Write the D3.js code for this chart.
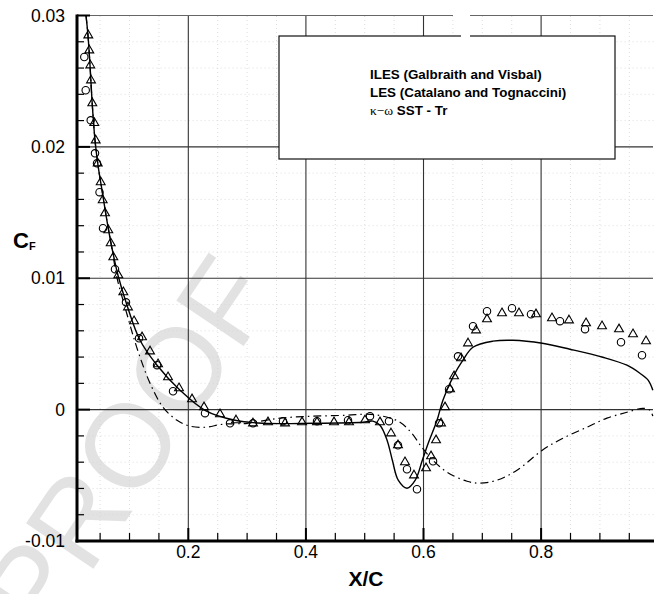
<!DOCTYPE html>
<html>
<head>
<meta charset="utf-8">
<script src="https://cdn.jsdelivr.net/npm/d3@7"></script>
<style>
  body { margin: 0; background: #fff; }
  svg { display: block; }
</style>
</head>
<body>
<svg id="chart" width="664" height="594"></svg>
<script>
// Axis ticks
const xTicks = [0.2, 0.4, 0.6, 0.8];
const xTickLabels = ["0.2", "0.4", "0.6", "0.8"];
const xMinorTicks = [0.05, 0.1, 0.15, 0.25, 0.3, 0.35, 0.45, 0.5, 0.55, 0.65, 0.7, 0.75, 0.85, 0.9, 0.95];
const yTicks = [-0.01, 0, 0.01, 0.02, 0.03];
const yTickLabels = ["-0.01", "0", "0.01", "0.02", "0.03"];
const yMinorTicks = [-0.008, -0.006, -0.004, -0.002, 0.002, 0.004, 0.006, 0.008,
                     0.012, 0.014, 0.016, 0.018, 0.022, 0.024, 0.026, 0.028];

const legendLines = ["ILES (Galbraith and Visbal)", "LES (Catalano and Tognaccini)"];

// ILES (Galbraith and Visbal) — circles
const ilesX = [0.0231, 0.0255, 0.0340, 0.0413, 0.0447, 0.0490, 0.0549, 0.0753, 0.0940, 0.1162,
               0.1468, 0.1740, 0.2284, 0.2709, 0.3100, 0.3610, 0.4189, 0.4716, 0.5090, 0.5413,
               0.5566, 0.5719, 0.5889, 0.6162, 0.6264, 0.6434, 0.6587, 0.6842, 0.7080, 0.7505,
               0.7828, 0.8321, 0.8747, 0.9359, 0.9716];
const ilesCf = [0.02684, 0.02431, 0.02202, 0.01951, 0.01875, 0.01655, 0.01381, 0.01069, 0.00817, 0.00543,
                0.00338, 0.00140, -0.00027, -0.00104, -0.00104, -0.00088, -0.00088, -0.00081, -0.00050, -0.00088,
                -0.00271, -0.00454, -0.00606, -0.00393, -0.00104, 0.00155, 0.00406, 0.00635, 0.00749, 0.00772,
                0.00726, 0.00673, 0.00612, 0.00513, 0.00414];

// LES (Catalano and Tognaccini) — triangles
const lesX = [0.0299, 0.0316, 0.0333, 0.0345, 0.0367, 0.0401, 0.0425, 0.0459, 0.0510, 0.0544,
              0.0583, 0.0639, 0.0680, 0.0724, 0.0810, 0.0895, 0.0974, 0.1077, 0.1213, 0.1349,
              0.1485, 0.1655, 0.1842, 0.2063, 0.2267, 0.2539, 0.2811, 0.3100, 0.3355, 0.3645,
              0.3934, 0.4189, 0.4478, 0.4733, 0.5005, 0.5260, 0.5447, 0.5566, 0.5685, 0.5838,
              0.6043, 0.6128, 0.6213, 0.6298, 0.6366, 0.6451, 0.6519, 0.6638, 0.6757, 0.6893,
              0.7080, 0.7335, 0.7624, 0.7913, 0.8185, 0.8474, 0.8764, 0.9036, 0.9325, 0.9563,
              0.9784];
const lesCf = [0.02849, 0.02735, 0.02621, 0.02507, 0.02332, 0.02182, 0.02050, 0.01875, 0.01731, 0.01594,
               0.01495, 0.01366, 0.01267, 0.01160, 0.01023, 0.00894, 0.00779, 0.00673, 0.00551, 0.00444,
               0.00346, 0.00247, 0.00163, 0.00079, 0.00018, -0.00035, -0.00081, -0.00104, -0.00096, -0.00104,
               -0.00096, -0.00096, -0.00096, -0.00096, -0.00081, -0.00096, -0.00180, -0.00271, -0.00400, -0.00500,
               -0.00446, -0.00355, -0.00233, -0.00104, 0.00018, 0.00155, 0.00254, 0.00391, 0.00505, 0.00604,
               0.00688, 0.00734, 0.00734, 0.00726, 0.00696, 0.00680, 0.00658, 0.00635, 0.00612, 0.00574,
               0.00521];

// k-omega SST with transition — solid line
const sstTrX = [0.026, 0.0294, 0.0328, 0.0362, 0.0413, 0.0464, 0.0532, 0.0600, 0.0685, 0.0804,
                0.0957, 0.1179, 0.1468, 0.1859, 0.2284, 0.2794, 0.3270, 0.4120, 0.4970, 0.5140,
                0.5260, 0.5380, 0.5470, 0.5570, 0.5720, 0.5860, 0.5980, 0.6080, 0.6230, 0.6330,
                0.6500, 0.6670, 0.6840, 0.7180, 0.7520, 0.8020, 0.8490, 0.9050, 0.9460, 0.9680,
                0.9820, 0.9900];
const sstTrCf = [0.0300, 0.02847, 0.02621, 0.02354, 0.02050, 0.01860, 0.01670, 0.01480, 0.01267, 0.01023,
                 0.00795, 0.00528, 0.00338, 0.00148, -0.00005, -0.00081, -0.00104, -0.00104, -0.00096, -0.00088,
                 -0.00119, -0.00233, -0.00385, -0.00537, -0.00598, -0.00537, -0.00385, -0.00256, -0.00081, 0.00072,
                 0.00247, 0.00376, 0.00475, 0.00521, 0.00528, 0.00505, 0.00460, 0.00399, 0.00338, 0.00277,
                 0.00224, 0.00148];

// k-omega SST fully turbulent — dash-dot line
const sstX = [0.026, 0.0294, 0.0328, 0.0362, 0.0413, 0.0464, 0.0532, 0.0600, 0.0685, 0.0789,
              0.0889, 0.0957, 0.1059, 0.1179, 0.1349, 0.1570, 0.1808, 0.2029, 0.2284, 0.2590,
              0.3000, 0.3560, 0.4120, 0.4700, 0.5040, 0.5310, 0.5600, 0.5800, 0.5970, 0.6160,
              0.6400, 0.6740, 0.6960, 0.7250, 0.7590, 0.8020, 0.8370, 0.8780, 0.9120, 0.9460,
              0.9730, 0.9850, 0.9900];
const sstCf = [0.0300, 0.02847, 0.02621, 0.02354, 0.02050, 0.01860, 0.01670, 0.01480, 0.01267, 0.01000,
               0.00833, 0.00726, 0.00566, 0.00399, 0.00201, 0.00018, -0.00081, -0.00126, -0.00134, -0.00111,
               -0.00104, -0.00065, -0.00050, -0.00043, -0.00035, -0.00050, -0.00096, -0.00180, -0.00286, -0.00385,
               -0.00476, -0.00545, -0.00560, -0.00537, -0.00461, -0.00309, -0.00218, -0.00134, -0.00065, -0.00020,
               0.00010, -0.00005, -0.00050];

const svg = d3.select("#chart");
const FONT = "'Liberation Sans', Arial, Helvetica, sans-serif";

const x = d3.scaleLinear().domain([0.01, 0.992]).range([76.6, 654]);
const y = d3.scaleLinear().domain([-0.01, 0.03]).range([541, 15.5]);

// Watermark
svg.append("text")
  .attr("transform", "translate(44,642) rotate(-56)")
  .attr("font-family", FONT)
  .attr("font-size", 118)
  .attr("fill", "#e2e2e2")
  .text("PROOF");

// Minor dotted grid
const grid = svg.append("g");
grid.selectAll("line.xm").data(xMinorTicks).join("line")
  .attr("x1", d => x(d)).attr("x2", d => x(d))
  .attr("y1", y(-0.01)).attr("y2", y(0.03))
  .attr("stroke", "#d4d4d4").attr("stroke-width", 0.8).attr("stroke-dasharray", "1,3");
grid.selectAll("line.ym").data(yMinorTicks).join("line")
  .attr("x1", x(0.01)).attr("x2", x(0.992))
  .attr("y1", d => y(d)).attr("y2", d => y(d))
  .attr("stroke", "#d4d4d4").attr("stroke-width", 0.8).attr("stroke-dasharray", "1,3");

// Major grid
grid.selectAll("line.xM").data(xTicks).join("line")
  .attr("x1", d => x(d)).attr("x2", d => x(d))
  .attr("y1", y(-0.01)).attr("y2", y(0.03))
  .attr("stroke", "#333").attr("stroke-width", 1.1);
grid.selectAll("line.yM").data(yTicks.filter(d => d > -0.01)).join("line")
  .attr("x1", x(0.01)).attr("x2", x(0.992) - 1)
  .attr("y1", d => y(d)).attr("y2", d => y(d))
  .attr("stroke", d => d === 0.03 ? "#666" : "#333").attr("stroke-width", 1.1);

// Legend box
svg.append("rect")
  .attr("x", 279).attr("y", 36).attr("width", 336).attr("height", 123)
  .attr("fill", "#fff").attr("stroke", "#111").attr("stroke-width", 1.2);
const leg = svg.append("g").attr("font-family", FONT).attr("font-weight", "bold").attr("font-size", 13.4);
leg.selectAll("text.l").data(legendLines).join("text")
  .attr("x", 370).attr("y", (d, i) => 79 + i * 18).text(d => d);
const t3 = leg.append("text").attr("x", 370).attr("y", 115);
t3.append("tspan").attr("font-family", "'Liberation Serif', 'DejaVu Serif', serif")
  .attr("font-weight", "normal").attr("font-size", 13.4).text("\u03ba\u2212\u03c9");
t3.append("tspan").text(" SST - Tr");

// Axes
svg.append("line").attr("x1", 75.5).attr("x2", 654).attr("y1", 541).attr("y2", 541)
  .attr("stroke", "#000").attr("stroke-width", 3);
svg.append("line").attr("x1", 77).attr("x2", 77).attr("y1", 14.5).attr("y2", 542.5)
  .attr("stroke", "#000").attr("stroke-width", 3);

// Tick marks (inward)
const ticks = svg.append("g").attr("stroke", "#000");
ticks.selectAll("line.xt").data(xTicks).join("line")
  .attr("x1", d => x(d)).attr("x2", d => x(d)).attr("y1", 541).attr("y2", 528)
  .attr("stroke-width", 2);
ticks.selectAll("line.xmt").data(xMinorTicks).join("line")
  .attr("x1", d => x(d)).attr("x2", d => x(d)).attr("y1", 541).attr("y2", 533)
  .attr("stroke-width", 1.2);
ticks.selectAll("line.yt").data(yTicks).join("line")
  .attr("x1", 77).attr("x2", 90).attr("y1", d => y(d)).attr("y2", d => y(d))
  .attr("stroke-width", 2);
ticks.selectAll("line.ymt").data(yMinorTicks).join("line")
  .attr("x1", 77).attr("x2", 84).attr("y1", d => y(d)).attr("y2", d => y(d))
  .attr("stroke-width", 1.2);

// Tick labels
const lab = svg.append("g").attr("font-family", FONT).attr("font-size", 17.5).attr("fill", "#000");
lab.selectAll("text.xl").data(xTicks).join("text")
  .attr("x", d => x(d)).attr("y", 558).attr("text-anchor", "middle")
  .text((d, i) => xTickLabels[i]);
lab.selectAll("text.yl").data(yTicks).join("text")
  .attr("x", 65).attr("y", d => y(d) + 6).attr("text-anchor", "end")
  .text((d, i) => yTickLabels[i]);

// Axis titles
svg.append("text").attr("x", 366).attr("y", 586).attr("text-anchor", "middle")
  .attr("font-family", FONT).attr("font-weight", "bold").attr("font-size", 21).text("X/C");
const yt = svg.append("text").attr("x", 13).attr("y", 248)
  .attr("font-family", FONT).attr("font-weight", "bold").attr("font-size", 22);
yt.append("tspan").text("C");
yt.append("tspan").attr("font-size", 11).attr("dy", 2).text("F");

// Curves
const line = d3.line().x(d => x(d[0])).y(d => y(d[1])).curve(d3.curveCatmullRom.alpha(0.5));
svg.append("path").datum(d3.zip(sstX, sstCf)).attr("d", line)
  .attr("fill", "none").attr("stroke", "#000").attr("stroke-width", 1.2)
  .attr("stroke-dasharray", "8,4,1.5,4");
svg.append("path").datum(d3.zip(sstTrX, sstTrCf)).attr("d", line)
  .attr("fill", "none").attr("stroke", "#000").attr("stroke-width", 1.4);

// Markers
svg.append("g").selectAll("circle").data(d3.zip(ilesX, ilesCf)).join("circle")
  .attr("cx", d => x(d[0])).attr("cy", d => y(d[1])).attr("r", 3.7)
  .attr("fill", "none").attr("stroke", "#000").attr("stroke-width", 1.1);
const tri = d3.symbol().type(d3.symbolTriangle).size(34);
svg.append("g").selectAll("path").data(d3.zip(lesX, lesCf)).join("path")
  .attr("transform", d => `translate(${x(d[0])},${y(d[1])})`).attr("d", tri)
  .attr("fill", "none").attr("stroke", "#000").attr("stroke-width", 1.1);

// Small breaks in the top frame and legend border
svg.append("rect").attr("x", 453).attr("y", 12).attr("width", 17).attr("height", 7).attr("fill", "#fff");
svg.append("rect").attr("x", 461).attr("y", 33).attr("width", 9).attr("height", 6).attr("fill", "#fff");
</script>
</body>
</html>
